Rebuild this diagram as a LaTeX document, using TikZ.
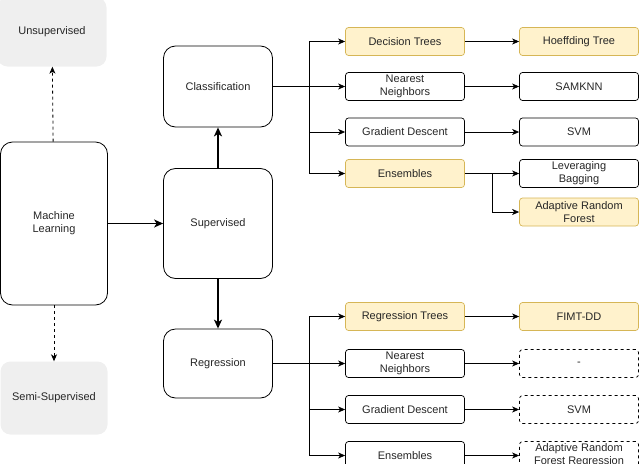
\documentclass[tikz,border=0pt]{standalone}
\usepackage{fontspec}
\setmainfont{Liberation Sans}
\usetikzlibrary{arrows,arrows.meta}
\definecolor{softgray}{HTML}{EFEFEF}
\definecolor{paleyellow}{HTML}{FFF2CC}
\definecolor{goldline}{HTML}{D6B656}

\begin{document}
\begin{tikzpicture}[x=1pt,y=-1pt,
	every node/.style={font=\fontsize{11}{13}\selectfont,align=center,text=black!85},
	big/.style={draw,rounded corners=12pt,minimum width=109pt,line width=0.8pt},
	grey/.style={fill=softgray,rounded corners=10pt,minimum width=109pt},
	leaf/.style={draw,rounded corners=3pt,minimum width=119pt,minimum height=28pt,inner sep=1pt,line width=0.7pt},
	gold/.style={leaf,fill=paleyellow,draw=goldline},
	open/.style={leaf,dashed},
	link/.style={-{Stealth[length=7pt,width=6pt,inset=2pt]},line width=0.8pt},
	mainlink/.style={-{Stealth[length=9pt,width=8pt,inset=2.5pt]},line width=1.6pt}]
	\useasboundingbox (0,0) rectangle (644,463);
	
	\node[grey,minimum height=69pt] (uns) at (52,32) {Unsupervised};
	\node[big,minimum width=107pt,minimum height=163pt] (ml) at (54,223.5) {Machine\\Learning};
	\node[grey,minimum width=107pt,minimum height=73pt] (semi) at (54,398) {Semi-Supervised};
	
	\node[big,minimum height=81pt] (cls) at (218,86.5) {Classification};
	\node[big,minimum height=110pt] (sup) at (218,223.5) {Supervised};
	\node[big,minimum height=69pt] (reg) at (218,363.5) {Regression};
	
	\node[gold] (dt) at (405,41.5) {Decision Trees};
	\node[leaf] (nnc) at (405,86.5) {Nearest\\Neighbors};
	\node[leaf] (gdc) at (405,132) {Gradient Descent};
	\node[gold] (ensc) at (405,173.5) {Ensembles};
	
	\node[gold] (ht) at (579,41.5) {Hoeffding Tree};
	\node[leaf] (samknn) at (579,86.5) {SAMKNN};
	\node[leaf] (svmc) at (579,132) {SVM};
	\node[leaf] (lb) at (579,173.5) {Leveraging\\Bagging};
	\node[gold] (arf) at (579,212) {Adaptive Random\\Forest};
	
	\node[gold] (rt) at (405,316.5) {Regression Trees};
	\node[leaf] (nnr) at (405,363.5) {Nearest\\Neighbors};
	\node[leaf] (gdr) at (405,409.5) {Gradient Descent};
	\node[leaf] (ensr) at (405,455.5) {Ensembles};
	
	\node[gold] (fimt) at (579,316.5) {FIMT-DD};
	\node[open] (none) at (579,363.5) {-};
	\node[open] (svmr) at (579,409.5) {SVM};
	\node[open] (arfr) at (579,455.5) {Adaptive Random\\Forest Regression};
	
	\coordinate (cj) at (309,86.5);
	\coordinate (ej) at (492,173.5);
	\coordinate (rj) at (309,363.5);
	
	\draw[link,dashed] (ml) -- (uns);
	\draw[link,dashed] (ml) -- (semi);
	\draw[mainlink] (ml) -- (sup);
	\draw[mainlink] (sup) -- (cls);
	\draw[mainlink] (sup) -- (reg);
	
	\draw[line width=1pt] (cls) -- (cj);
	\draw[link] (cj) |- (dt);
	\draw[link] (cj) -- (nnc);
	\draw[link] (cj) |- (gdc);
	\draw[link] (cj) |- (ensc);
	\draw[link] (dt) -- (ht);
	\draw[link] (nnc) -- (samknn);
	\draw[link] (gdc) -- (svmc);
	\draw[link] (ensc) -- (lb);
	\draw[link] (ej) |- (arf);
	
	\draw[line width=1pt] (reg) -- (rj);
	\draw[link] (rj) |- (rt);
	\draw[link] (rj) -- (nnr);
	\draw[link] (rj) |- (gdr);
	\draw[link] (rj) |- (ensr);
	\draw[link] (rt) -- (fimt);
	\draw[link] (nnr) -- (none);
	\draw[link] (gdr) -- (svmr);
	\draw[link] (ensr) -- (arfr);
	
\end{tikzpicture}
\end{document}
